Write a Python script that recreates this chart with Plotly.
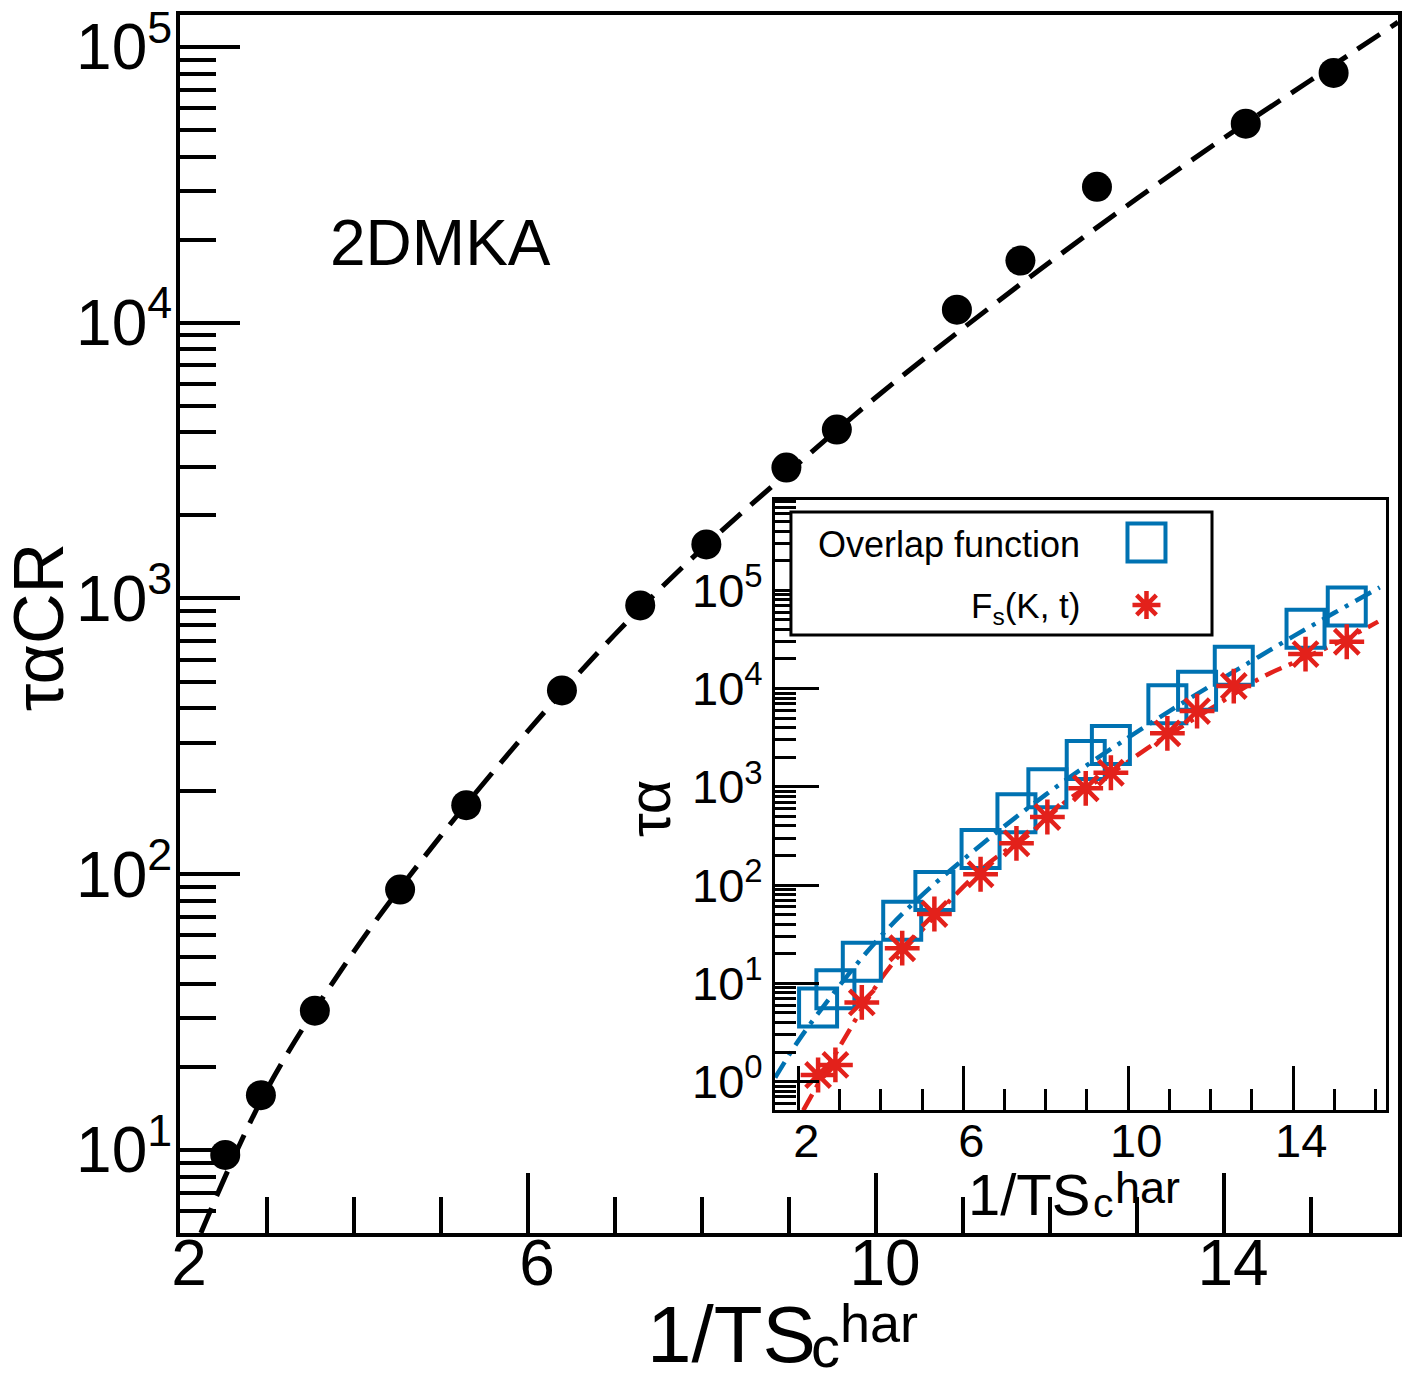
import plotly.graph_objects as go

# main panel: tau_alpha^CR vs 1/T S_c^har (2DMKA)
x_main = [2.52, 2.93, 3.55, 4.53, 5.29, 6.39, 7.29, 8.05, 8.97, 9.55, 10.93, 11.66, 12.54, 14.25, 15.26]
tau_cr = [9.6, 15.8, 32, 88, 178, 464, 944, 1570, 2985, 4100, 11150, 16800, 31100, 52700, 80500]

# dashed fit curve
x_fit_main = [2.24, 3, 4, 5, 6, 7, 8, 9, 10, 11, 12, 13, 14, 15, 16]
tau_fit_main = [5.0, 16.6, 52.5, 138, 331, 741, 1514, 2884, 5370, 9550, 16600, 28200, 46800, 75900, 123000]

# inset: overlap function and self intermediate scattering function
x_inset = [2.48, 2.90, 3.54, 4.52, 5.30, 6.42, 7.29, 8.04, 8.97, 9.58, 10.95, 11.67, 12.56, 14.30, 15.30]
tau_overlap = [5.7, 8.7, 16.6, 43.4, 87, 233, 537, 966, 1875, 2660, 6900, 9500, 17060, 40560, 68500]
tau_fs = [1.17, 1.48, 6.4, 22.8, 50.8, 129, 266, 493, 966, 1390, 3500, 5900, 10600, 22400, 29900]

x_fit_overlap = [1.44, 2, 3, 4, 5, 6, 7, 8, 9, 10, 11, 12, 13, 14, 15, 16.1]
tau_fit_overlap = [1.1, 2.6, 9.5, 30.2, 79, 182, 398, 832, 1660, 3160, 5890, 10700, 19100, 33900, 58900, 107000]
x_fit_fs = [2.12, 3.05, 4.1, 5.23, 6.61, 7.58, 8.55, 9.8, 10.6, 12.06, 13.27, 14.0, 15.3, 16.06]
tau_fit_fs = [0.51, 2.45, 12.6, 44.2, 166, 324, 741, 1585, 2690, 6460, 13200, 18200, 32400, 47900]

legend_names = ["Overlap function", "F<sub>s</sub>(K, t)"]

decades = [1, 10, 100, 1000, 10000, 100000]
decade_labels = ["10<sup>0</sup>", "10<sup>1</sup>", "10<sup>2</sup>", "10<sup>3</sup>", "10<sup>4</sup>", "10<sup>5</sup>"]
minor_vals = [m * d for d in [0.1] + decades for m in range(2, 10)]

BLUE = "#0072b2"
RED = "#e3211b"
FONT = "Liberation Sans"

fig = go.Figure()

fig.add_trace(go.Scatter(x=x_fit_main, y=tau_fit_main, mode="lines", line_shape="spline",
                         line=dict(color="black", width=5, dash="27px,13px"), showlegend=False))
fig.add_trace(go.Scatter(x=x_main, y=tau_cr, mode="markers",
                         marker=dict(color="black", size=30, symbol="circle"), showlegend=False))

# inset traces
fig.add_trace(go.Scatter(x=x_fit_overlap, y=tau_fit_overlap, mode="lines", line_shape="spline",
                         line=dict(color=BLUE, width=4.5, dash="18px,8px,4px,8px"),
                         xaxis="x2", yaxis="y2", showlegend=False))
fig.add_trace(go.Scatter(x=x_fit_fs, y=tau_fit_fs, mode="lines", line_shape="spline",
                         line=dict(color=RED, width=4.5, dash="18px,8px,4px,8px"),
                         xaxis="x2", yaxis="y2", showlegend=False))
fig.add_trace(go.Scatter(x=x_inset, y=tau_overlap, mode="markers", name=legend_names[0],
                         marker=dict(symbol="square-open", size=38, color=BLUE, line=dict(width=4, color=BLUE)),
                         xaxis="x2", yaxis="y2", showlegend=False))
fig.add_trace(go.Scatter(x=x_inset, y=tau_fs, mode="markers", name=legend_names[1],
                         marker=dict(symbol="asterisk-open", size=29, color=RED, line=dict(width=4.5, color=RED)),
                         xaxis="x2", yaxis="y2", showlegend=False))

axis_common = dict(showline=True, linecolor="black", mirror=True, showgrid=False, zeroline=False,
                   ticks="inside", tickcolor="black", automargin=False, ticklabeloverflow="allow")

# legend drawn as a framed box with the symbols on the right, as in the original
sq_cx, sq_cy, sq_h = 0.7935, 0.5669, 0.0156
st_cx, st_cy, st_h, st_d = 0.7935, 0.5156, 0.0115, 0.0081
star_path = (f"M{st_cx - st_h},{st_cy} L{st_cx + st_h},{st_cy} "
             f"M{st_cx},{st_cy - st_h} L{st_cx},{st_cy + st_h} "
             f"M{st_cx - st_d},{st_cy - st_d} L{st_cx + st_d},{st_cy + st_d} "
             f"M{st_cx - st_d},{st_cy + st_d} L{st_cx + st_d},{st_cy - st_d}")
shapes = [
    dict(type="rect", xref="paper", yref="paper", x0=0.5016, x1=0.8473, y0=0.491, y1=0.592,
         line=dict(color="black", width=3), fillcolor="white"),
    dict(type="rect", xref="paper", yref="paper", x0=sq_cx - sq_h, x1=sq_cx + sq_h,
         y0=sq_cy - sq_h, y1=sq_cy + sq_h, line=dict(color=BLUE, width=4)),
    dict(type="path", xref="paper", yref="paper", path=star_path, line=dict(color=RED, width=4.5)),
]


def ann(text, x, y, size, xanchor="left", angle=0):
    return dict(text=text, x=x, y=y, xref="paper", yref="paper", showarrow=False,
                xanchor=xanchor, yanchor="middle", textangle=angle, font=dict(size=size))


annotations = [
    ann("2DMKA", 0.2135, 0.8128, 64, "center"),
    # main axis titles
    ann("1/TS", 0.3818, -0.0832, 80),
    ann("c", 0.5164, -0.0935, 58),
    ann("har", 0.5406, -0.0741, 54),
    ann("ταCR", -0.116, 0.4971, 70, "center", -90),
    # inset axis titles
    ann("1/TS", 0.6451, 0.0313, 58),
    ann("c", 0.748, 0.0248, 41),
    ann("har", 0.766, 0.0374, 45),
    ann("τα", 0.386, 0.349, 60, "center", -90),
    # legend texts
    ann(legend_names[0], 0.7406, 0.5653, 36, "right"),
    ann(legend_names[1], 0.7406, 0.5131, 35, "right"),
]

# the page adds an 8px body margin, so the figure is sized to fit the 1428x1376 window
fig.update_layout(
    width=1412, height=1360,
    margin=dict(l=172, r=22, t=7, b=135),
    paper_bgcolor="white", plot_bgcolor="white",
    font=dict(family=FONT, color="black"),
    showlegend=False,
    xaxis=dict(**axis_common, linewidth=4, range=[2, 16], tickmode="array",
               tickvals=[2, 6, 10, 14], ticklen=60, tickwidth=4,
               tickfont=dict(size=64), ticklabelstandoff=-29, ticklabelshift=9,
               minor=dict(ticks="inside", dtick=1, tick0=2, ticklen=36, tickwidth=4, tickcolor="black")),
    yaxis=dict(**axis_common, linewidth=4, type="log", range=[0.699, 5.116], tickmode="array",
               tickvals=decades[1:], ticktext=decade_labels[1:], ticklen=60, tickwidth=4,
               tickfont=dict(size=64), ticklabelstandoff=-9,
               minor=dict(ticks="inside", tickvals=minor_vals, ticklen=36, tickwidth=4, tickcolor="black")),
    xaxis2=dict(**axis_common, linewidth=3, domain=[0.4885, 0.9901], anchor="y2",
                range=[1.435, 16.25], tickmode="array", tickvals=[2, 6, 10, 14],
                ticklen=44, tickwidth=3, tickfont=dict(size=47), ticklabelstandoff=-12, ticklabelshift=8,
                minor=dict(ticks="inside", dtick=1, tick0=2, ticklen=21, tickwidth=3, tickcolor="black")),
    yaxis2=dict(**axis_common, linewidth=3, domain=[0.101, 0.6018], anchor="x2", type="log",
                range=[-0.288, 5.918], tickmode="array", tickvals=decades, ticktext=decade_labels,
                ticklen=44, tickwidth=3, tickfont=dict(size=47),
                minor=dict(ticks="inside", tickvals=minor_vals, ticklen=21, tickwidth=3, tickcolor="black")),
    shapes=shapes,
    annotations=annotations,
)

fig.write_html("out.html")
